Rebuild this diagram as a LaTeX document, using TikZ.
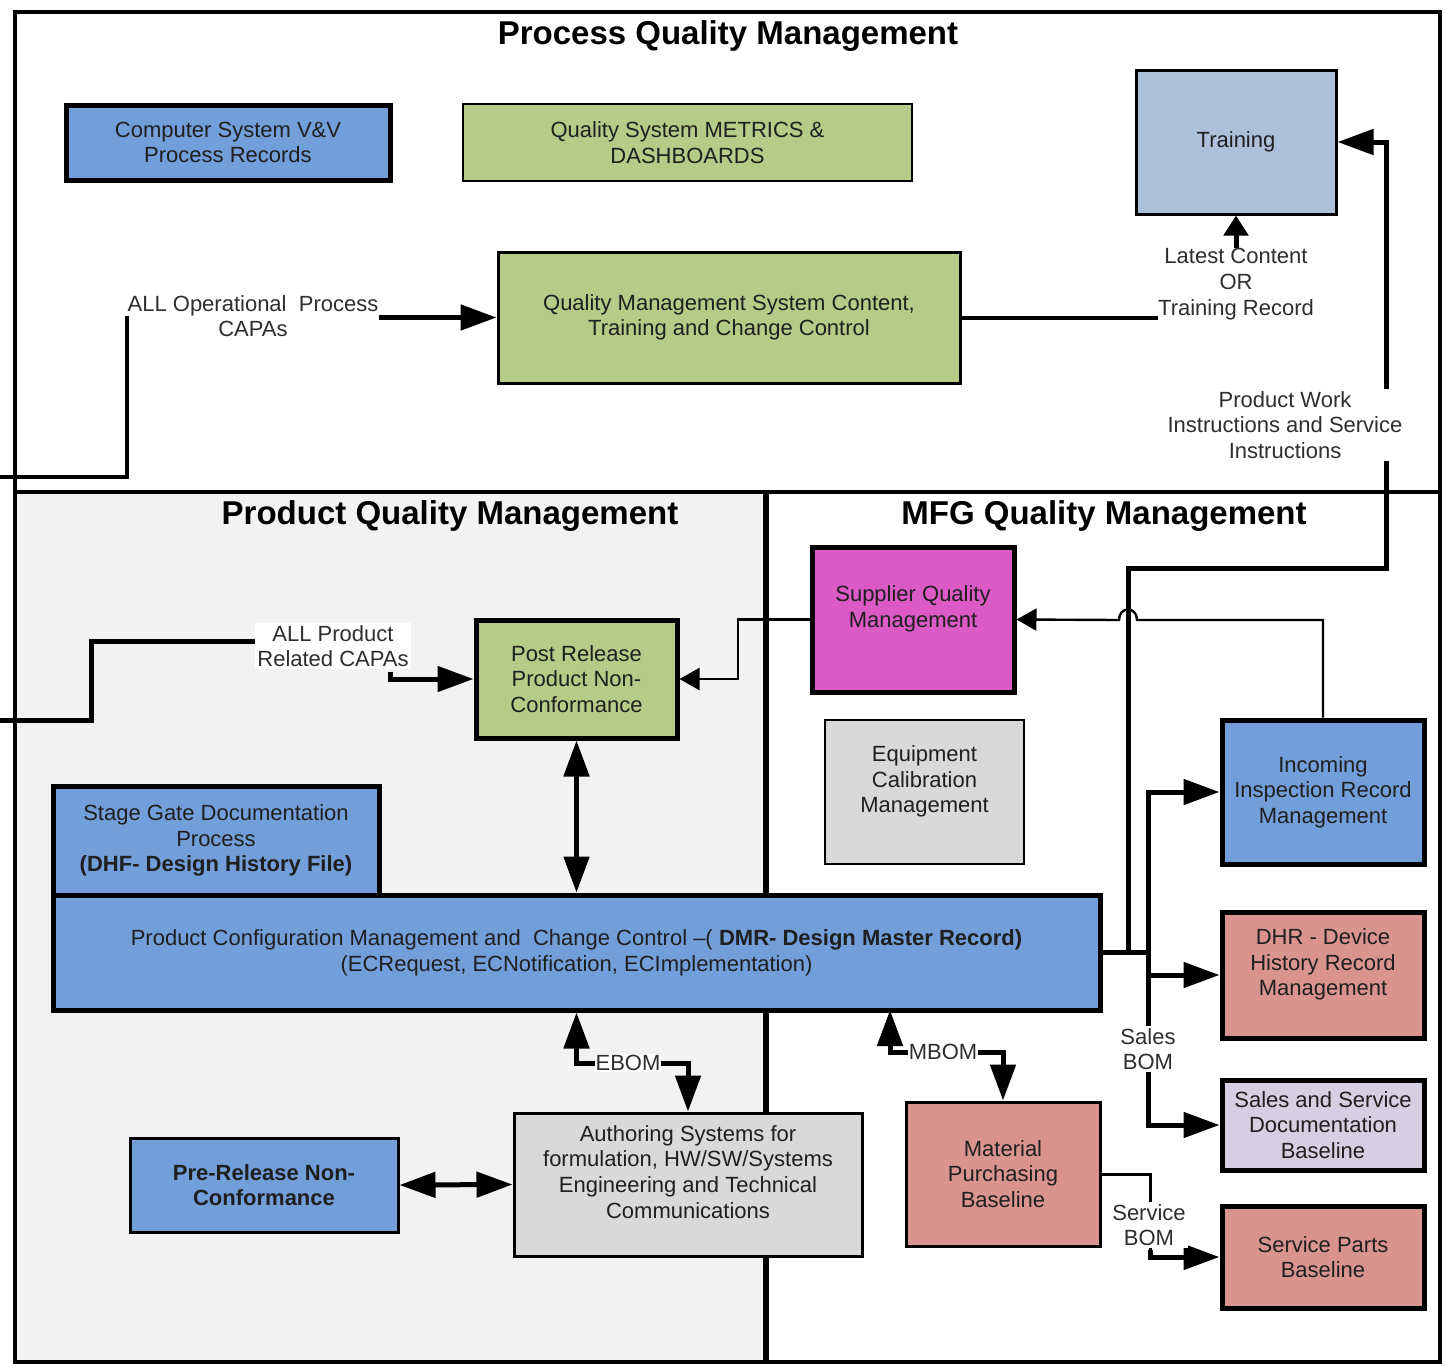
\documentclass[tikz,border=0pt]{standalone}
\usepackage{fontspec}
\setmainfont{Liberation Sans}
\usetikzlibrary{arrows.meta}
\pgfdeclarelayer{back}\pgfdeclarelayer{front}
\pgfsetlayers{back,main,front}
\definecolor{cblue}{HTML}{729FDA}
\definecolor{cgreen}{HTML}{B7CB89}
\definecolor{ctrain}{HTML}{ADC0DA}
\definecolor{cmag}{HTML}{DC5AC6}
\definecolor{cgray}{HTML}{D9D9D9}
\definecolor{csalm}{HTML}{DA948F}
\definecolor{clav}{HTML}{D6CEE2}
\definecolor{cpanel}{HTML}{F2F2F2}
\begin{document}
\begin{tikzpicture}[x=0.5pt,y=-0.5pt,
  box/.style={draw=black, align=center, font=\fontsize{11}{12.8}\selectfont, text=black!88, inner sep=1pt},
  thickbox/.style={box, line width=2.5pt},
  medbox/.style={box, line width=1.5pt},
  thinbox/.style={box, line width=1pt},
  ttl/.style={font=\fontsize{16.5}{19}\selectfont\bfseries},
  lbl/.style={fill=white, align=center, font=\fontsize{11}{12.8}\selectfont, inner sep=1pt, text=black!82},
  conn/.style={line width=2.5pt},
  tconn/.style={line width=1.2pt},
  bigtip/.style={-{Triangle[length=18pt,width=12.5pt]}},
  shorttip/.style={-{Triangle[length=10pt,width=12pt]}},
  bigdbl/.style={{Triangle[length=18pt,width=12.5pt]}-{Triangle[length=18pt,width=12.5pt]}},
  smalltip/.style={-{Triangle[length=10pt,width=11pt]}}
]
\useasboundingbox (0,0) rectangle (1446,1366);

% panels and frame
\begin{pgfonlayer}{back}
\fill[white] (0,0) rectangle (1446,1366);
\fill[cpanel] (15,492) rectangle (766,1362);
\draw[line width=3pt] (766,492) -- (766,1362);
\draw[line width=2pt] (15,492) -- (1440,492);
\draw[line width=2pt] (15,12) rectangle (1440,1362);
\end{pgfonlayer}

% titles
\node[ttl] (t1) at (728,36) {Process Quality Management};
\node[ttl] (t2) at (450,516) {Product Quality Management};
\node[ttl] (t3) at (1104,516) {MFG Quality Management};

% boxes
\node[thickbox, fill=cblue, minimum width=162pt, minimum height=37.5pt] (csvv) at (228,142.5) {Computer System V\&V\\Process Records};
\node[thinbox, fill=cgreen, minimum width=224.5pt, minimum height=38.5pt] (metrics) at (687.5,142.5) {Quality System METRICS \&\\DASHBOARDS};
\node[medbox, fill=ctrain, minimum width=100pt, minimum height=72pt] (training) at (1236,142) {Training};
\node[medbox, fill=cgreen, minimum width=231pt, minimum height=65.5pt] (qms) at (729,317.5) {Quality Management System Content,\\Training and Change Control};
\node[thickbox, fill=cmag, minimum width=101pt, minimum height=72.5pt] (sqm) at (913,619.5) {Supplier Quality\\Management\\\mbox{}};
\node[thinbox, fill=cgray, minimum width=99.5pt, minimum height=72pt] (ecm) at (924.5,792) {Equipment\\Calibration\\Management\\\mbox{}};
\node[thickbox, fill=cblue, minimum width=101pt, minimum height=72pt] (iirm) at (1323,792) {Incoming\\Inspection Record\\Management};
\node[thickbox, fill=csalm, minimum width=101pt, minimum height=63pt] (dhr) at (1323,975) {DHR - Device\\History Record\\Management\\\mbox{}};
\node[thickbox, fill=clav, minimum width=101pt, minimum height=45pt] (ssdb) at (1323,1125) {Sales and Service\\Documentation\\Baseline};
\node[thickbox, fill=csalm, minimum width=101pt, minimum height=51pt] (spb) at (1323,1257) {Service Parts\\Baseline};
\node[medbox, fill=csalm, minimum width=97pt, minimum height=72pt] (mpb) at (1003,1174) {Material\\Purchasing\\Baseline};
\node[medbox, fill=cgray, minimum width=174pt, minimum height=71.5pt] (auth) at (688,1184.5) {Authoring Systems for\\formulation, HW/SW/Systems\\Engineering and Technical\\Communications\\\mbox{}};
\node[medbox, fill=cblue, minimum width=134pt, minimum height=47pt, font=\fontsize{11}{12.8}\selectfont\bfseries] (prnc) at (264,1185) {Pre-Release Non-\\Conformance};
\node[thickbox, fill=cblue, minimum width=163pt, minimum height=54.5pt] (sgd) at (216,840.5) {Stage Gate Documentation\\Process\\\textbf{(DHF- Design History File)}};
\node[thickbox, fill=cblue, minimum width=523.5pt, minimum height=57.5pt] (pcm) at (576.5,952.5) {Product Configuration Management and\ \ Change Control –( \textbf{DMR- Design Master Record)}\\(ECRequest, ECNotification, ECImplementation)};
\node[thickbox, fill=cgreen, minimum width=100.5pt, minimum height=59pt] (prpnc) at (576.5,679) {Post Release\\Product Non-\\Conformance};

% labels
\begin{pgfonlayer}{front}
\node[lbl, inner sep=0pt, fill=none] (opcapa) at (253,316) {ALL Operational\ \ Process\\CAPAs};
\node[lbl, inner sep=0pt, fill=none] (latest) at (1236,284) {Latest Content\\OR\\Training Record};
\node[lbl] (pwi) at (1285,425) {Product Work\\Instructions and Service\\Instructions};
\node[lbl] (prcapa) at (333,646) {ALL Product\\Related CAPAs};
\node[lbl] (salesbom) at (1148,1049) {Sales\\BOM};
\node[lbl] (servbom) at (1149,1225) {Service\\BOM};
\node[lbl, inner sep=0.5pt] (ebom) at (628,1063) {EBOM};
\node[lbl, inner sep=0.5pt] (mbom) at (943,1052) {MBOM};
\end{pgfonlayer}

% connectors
\coordinate (opsrc) at (0,477);
\coordinate (prsrc) at (0,720);
\draw[conn, line width=2pt] (opsrc) -| (opcapa.west);
\draw[conn, bigtip] (opcapa.east |- qms.west) -- (qms.west);
\draw[conn, line width=2pt] (qms.east) -- (qms.east -| latest.west);
\draw[conn, shorttip] (latest.north) -- (training.south);
\draw[conn, bigtip] (pcm.east) -| (1128,568) -| (1386,142) -- (training.east);
\draw[conn, bigtip] (pcm.east) -- (1148,952.5) |- (iirm.west);
\draw[conn, bigtip] (1148,952.5) |- (ssdb.west);
\draw[conn, bigtip] (1148,975) -- (dhr.west);
\draw[tconn, smalltip] (iirm.north) -- (1323,620) -- (1137,620) .. controls (1137,606) and (1119,606) .. (1119,620) -- (sqm.east);
\draw[tconn, smalltip] (sqm.west) -- (738,619.5) -- (738,679) -- (prpnc.east);
\draw[conn] (prsrc) -- (91,720) -- (91,641) -- (prcapa.west |- 0,641);
\draw[conn, bigtip] (390,672) -- (390,679) -- (prpnc.west);
\draw[conn, bigdbl] (prpnc.south) -- (pcm.north);
\draw[conn, bigdbl] (pcm.south) -- (576.5,1063) -- (688,1063) -- (auth.north);
\draw[conn, bigdbl] (890,1010) -- (890,1052) -- (1003,1052) -- (mpb.north);
\draw[conn, bigdbl] (prnc.east) -- (auth.west);
\draw[line width=1.5pt] (mpb.east) -- (1150,1174) -- (1150,1257);
\draw[conn, bigtip] (1150,1250) -- (1150,1257) -- (spb.west);
\end{tikzpicture}
\end{document}
